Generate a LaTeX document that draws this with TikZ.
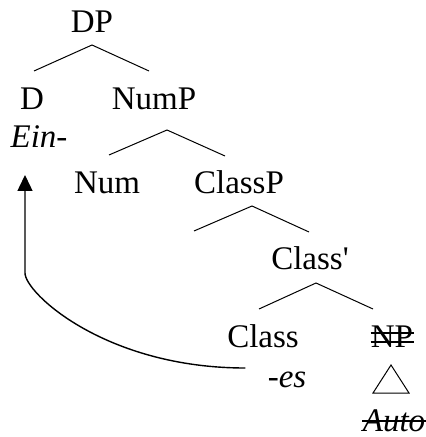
\documentclass[tikz,border=0pt]{standalone}
\usepackage{fontspec}
\newfontfamily\treefont{Liberation Serif}
\usetikzlibrary{arrows.meta, calc}

\begin{document}
\begin{tikzpicture}[
  x=0.5pt, y=-0.5pt,
  every node/.style={font=\treefont\fontsize{16.5}{19}\selectfont},
  cat/.style={anchor=base, inner sep=0pt},
  form/.style={cat, font=\treefont\fontsize{16.5}{19}\selectfont\itshape},
  branch/.style={line width=0.5pt},
  strike/.style={line width=0.8pt},
  move arrow/.style={-{Triangle[width=7.5pt, length=8pt]}, line width=0.7pt},
]
  \useasboundingbox (0,0) rectangle (425,437);

  \node[cat] (DP) at (92,33) {DP};
  \node[cat] (D) at (32,110) {D};
  \node[form] (ein) at (39,148) {Ein-};
  \node[cat] (NumP) at (154,110) {NumP};
  \node[cat] (Num) at (107,194) {Num};
  \node[cat] (ClassP) at (239,194) {ClassP};
  \node[cat] (Classbar) at (310,270) {Class'};
  \node[cat] (Class) at (263,347) {Class};
  \node[form] (es) at (287,387) {-es};
  \node[cat] (NP) at (392,347) {NP};
  \node[form] (auto) at (394,431) {Auto};

  % branches
  \draw[branch] (DP.base) +(-58,38) -- +(0,12) -- +(57,38);
  \draw[branch] (NumP.base) +(-45,45) -- +(13,20) -- +(71,46);
  \draw[branch] (ClassP.base) +(-45,37) -- +(13,12) -- +(70,38);
  \draw[branch] (Classbar.base) +(-51,39) -- +(6,13) -- +(63,39);
  \draw[branch] (NP.base) +(-1,18) -- +(-19,46) -- +(17,46) -- cycle;

  % struck-out copies
  \draw[strike] ($(NP.base west)+(0,-14)$) -- ($(NP.base east)+(0,-14)$);
  \draw[strike] ($(NP.base west)+(0,-5)$) -- ($(NP.base east)+(0,-5)$);
  \draw[strike] ($(auto.base west)+(0,-10)$) -- ($(auto.base east)+(0,-10)$);

  % movement of -es to D
  \coordinate (es-from) at ($(es.base west)+(-22,-19)$);
  \coordinate (ein-to) at ($(ein.base)+(-14,27)$);
  \draw[move arrow] (es-from) .. controls +(-140,0) and +(0,20) .. ($(ein-to)+(0,98)$) -- (ein-to);
\end{tikzpicture}
\end{document}
